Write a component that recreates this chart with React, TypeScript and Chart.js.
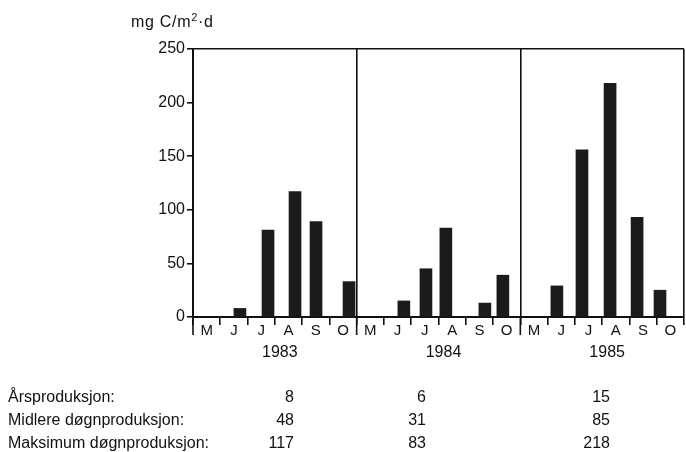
import React, { useEffect, useRef } from "react";
import { Chart, registerables } from "chart.js";

Chart.register(...registerables);

// ---- data ----
const MONTHS = ["M", "J", "J", "A", "S", "O"];
const YEARS = ["1983", "1984", "1985"];
// sampling position within each season (months after 1 May)
const POS_1983 = [1.72, 2.75, 3.74, 4.51, 5.72];
const VAL_1983 = [8, 81, 117, 89, 33];
const POS_1984 = [1.73, 2.54, 3.27, 4.7, 5.36];
const VAL_1984 = [15, 45, 83, 13, 39];
const POS_1985 = [1.34, 2.26, 3.29, 4.28, 5.12];
const VAL_1985 = [29, 156, 218, 93, 25];
const Y_MAX = 250;
const Y_STEP = 50;
const Y_UNIT = "mg C/m";
const ROW_LABELS = ["Årsproduksjon:", "Midlere døgnproduksjon:", "Maksimum døgnproduksjon:"];
const ARSPRODUKSJON = ["8", "6", "15"];
const MIDLERE = ["48", "31", "85"];
const MAKSIMUM = ["117", "83", "218"];

const FONT = "'Liberation Sans', Arial, Helvetica, sans-serif";
const INK = "#111111";

export default function App() {
  const canvasRef = useRef<HTMLCanvasElement | null>(null);

  useEffect(() => {
    const canvas = canvasRef.current;
    if (!canvas) return;
    const nM = MONTHS.length;
    const positions = [POS_1983, POS_1984, POS_1985];
    const values = [VAL_1983, VAL_1984, VAL_1985];
    const points: { x: number; y: number }[] = [];
    positions.forEach((pos, yi) =>
      pos.forEach((p, i) => points.push({ x: yi * nM + p, y: values[yi][i] }))
    );
    const total = YEARS.length * nM;

    const yearPlugin = {
      id: "yearLabels",
      afterDraw(chart: any) {
        const { ctx, chartArea } = chart;
        const x = chart.scales.x;
        ctx.save();
        ctx.strokeStyle = INK;
        ctx.lineWidth = 1.6;
        for (let i = 0; i < YEARS.length; i++) {
          const px = x.getPixelForValue(i * nM);
          ctx.beginPath();
          ctx.moveTo(px, chartArea.bottom);
          ctx.lineTo(px, chartArea.bottom + 18);
          ctx.stroke();
        }
        ctx.font = `16px ${FONT}`;
        ctx.fillStyle = INK;
        ctx.textAlign = "center";
        ctx.textBaseline = "middle";
        YEARS.forEach((yr, i) => {
          const cx = x.getPixelForValue(i * nM + nM / 2);
          ctx.fillText(yr, cx + 5, chartArea.bottom + 36);
        });
        ctx.restore();
      },
    };

    const chart = new Chart(canvas, {
      type: "bar",
      data: {
        datasets: [
          {
            data: points as any,
            backgroundColor: "#1b1b1b",
            borderWidth: 0,
            barThickness: 12,
          },
        ],
      },
      options: {
        responsive: false,
        animation: false,
        devicePixelRatio: 1,
        layout: { padding: { top: 49, right: 2, left: 0, bottom: 0 } },
        plugins: { legend: { display: false }, tooltip: { enabled: false } },
        scales: {
          x: {
            type: "linear",
            min: 0,
            max: total,
            offset: false,
            afterBuildTicks: (scale: any) => {
              const t = [];
              for (let v = 0; v <= total; v += 0.5) t.push({ value: v });
              scale.ticks = t;
            },
            afterFit: (scale: any) => {
              scale.height = 452 - 317;
            },
            ticks: {
              autoSkip: false,
              maxRotation: 0,
              minRotation: 0,
              padding: -3,
              color: INK,
              font: { family: FONT, size: 15 },
              callback: (value: any) => {
                const v = Number(value);
                return v % 1 === 0.5 ? MONTHS[Math.floor(v) % nM] : "";
              },
            },
            grid: {
              display: true,
              drawOnChartArea: true,
              drawTicks: true,
              offset: false,
              tickLength: 8,
              lineWidth: 1.6,
              color: (ctx: any) =>
                ctx.tick && ctx.tick.value % nM === 0 ? INK : "rgba(0,0,0,0)",
              tickColor: (ctx: any) =>
                ctx.tick && Number.isInteger(ctx.tick.value) ? INK : "rgba(0,0,0,0)",
            },
            border: { display: true, color: INK, width: 2 },
          },
          y: {
            min: 0,
            max: Y_MAX,
            afterFit: (scale: any) => {
              scale.width = 193;
            },
            ticks: {
              stepSize: Y_STEP,
              padding: 2,
              color: INK,
              font: { family: FONT, size: 16 },
            },
            grid: {
              display: true,
              drawOnChartArea: true,
              drawTicks: true,
              tickLength: 6,
              lineWidth: 1.6,
              color: (ctx: any) =>
                ctx.tick && ctx.tick.value === Y_MAX ? INK : "rgba(0,0,0,0)",
              tickColor: INK,
            },
            border: { display: true, color: INK, width: 2 },
          },
        },
      },
      plugins: [yearPlugin],
    });
    return () => chart.destroy();
  }, []);

  const rowTop = [389, 412, 435];
  const colRight = [294, 426, 610];
  const cols = [ARSPRODUKSJON, MIDLERE, MAKSIMUM];

  const textStyle: React.CSSProperties = {
    position: "absolute",
    fontFamily: FONT,
    fontSize: 16,
    lineHeight: "16px",
    color: INK,
    whiteSpace: "nowrap",
  };

  return (
    <div
      style={{
        position: "absolute",
        left: 0,
        top: 0,
        width: 686,
        height: 452,
        background: "#ffffff",
        overflow: "hidden",
      }}
    >
      <canvas
        ref={canvasRef}
        width={686}
        height={452}
        style={{ position: "absolute", left: 0, top: 0, width: 686, height: 452 }}
      />
      <div style={{ ...textStyle, left: 131, top: 14, fontSize: 16, letterSpacing: 0.7 }}>
        {Y_UNIT}
        <sup style={{ fontSize: 11, lineHeight: 0 }}>2</sup>·d
      </div>
      {ROW_LABELS.map((lbl, r) => (
        <div key={"l" + r} style={{ ...textStyle, left: 8, top: rowTop[r] }}>
          {lbl}
        </div>
      ))}
      {cols.map((col, r) =>
        col.map((v, c) => (
          <div
            key={"v" + r + "-" + c}
            style={{ ...textStyle, right: 686 - colRight[c], top: rowTop[r], textAlign: "right" }}
          >
            {v}
          </div>
        ))
      )}
    </div>
  );
}
